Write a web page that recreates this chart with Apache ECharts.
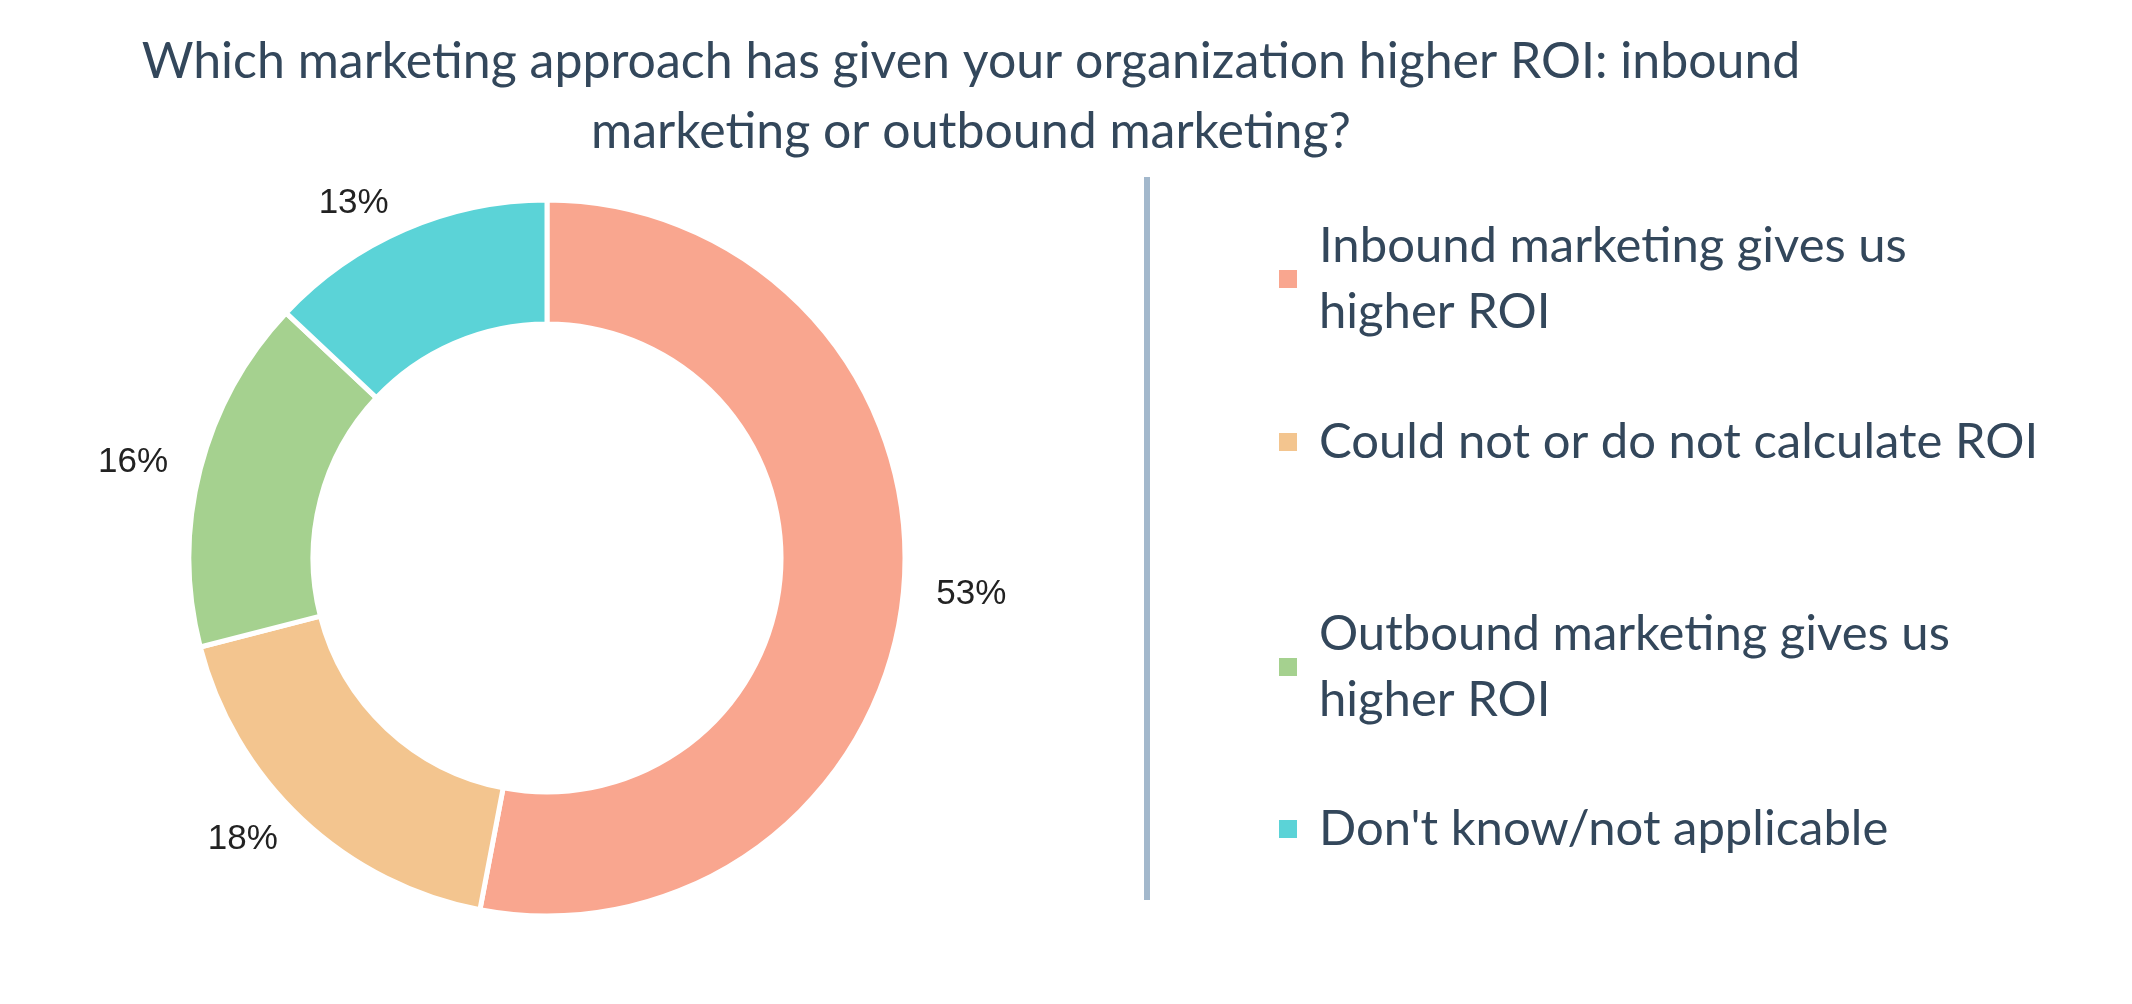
<!DOCTYPE html>
<html>
<head>
<meta charset="utf-8">
<script src="https://cdn.jsdelivr.net/npm/echarts@6/dist/echarts.min.js"></script>
<style>
  html, body { margin: 0; padding: 0; background: #fff; }
  #chart { width: 2132px; height: 1004px; }
</style>
</head>
<body>
<div id="chart"></div>
<script>
const categories = [
  'Inbound marketing gives us\nhigher ROI',
  'Could not or do not calculate ROI',
  'Outbound marketing gives us\nhigher ROI',
  "Don't know/not applicable"
];
const values = [53, 18, 16, 13];
const colors = ['#f9a68f', '#f3c58f', '#a5d18f', '#5bd3d7'];
const legendTops = [208, 404, 596, 791];

let chart = echarts.init(document.getElementById('chart'));

let legends = categories.map(function (name, i) {
  return {
    data: [name],
    left: 1272,
    top: legendTops[i],
    orient: 'vertical',
    icon: 'rect',
    itemWidth: 20,
    itemHeight: 20,
    itemGap: 10,
    selectedMode: false,
    textStyle: { fontFamily: 'Lato', fontSize: 49, color: '#33475b', lineHeight: 66, padding: [0, 0, 0, 16] }
  };
});

chart.setOption({
  title: {
    text: 'Which marketing approach has given your organization higher ROI: inbound\nmarketing or outbound marketing?',
    left: 966,
    top: 22,
    textAlign: 'center',
    textStyle: { fontFamily: 'Lato', fontSize: 50, fontWeight: 'normal', color: '#33475b', lineHeight: 70 }
  },
  color: colors,
  legend: legends,
  graphic: [{
    type: 'line',
    shape: { x1: 1147, y1: 177, x2: 1147, y2: 900 },
    style: { stroke: '#a3b8cc', lineWidth: 6 }
  }],
  series: [{
    type: 'pie',
    center: [547, 558],
    radius: [234, 358],
    startAngle: 90,
    clockwise: true,
    itemStyle: { borderColor: '#fff', borderWidth: 5 },
    label: {
      show: true,
      position: 'outside',
      formatter: '{c}%',
      fontFamily: 'Liberation Sans',
      fontSize: 35,
      color: '#222'
    },
    labelLine: { show: false, length: 28, length2: 0 },
    data: categories.map(function (name, i) { return { name: name, value: values[i] }; })
  }]
});
</script>
</body>
</html>
